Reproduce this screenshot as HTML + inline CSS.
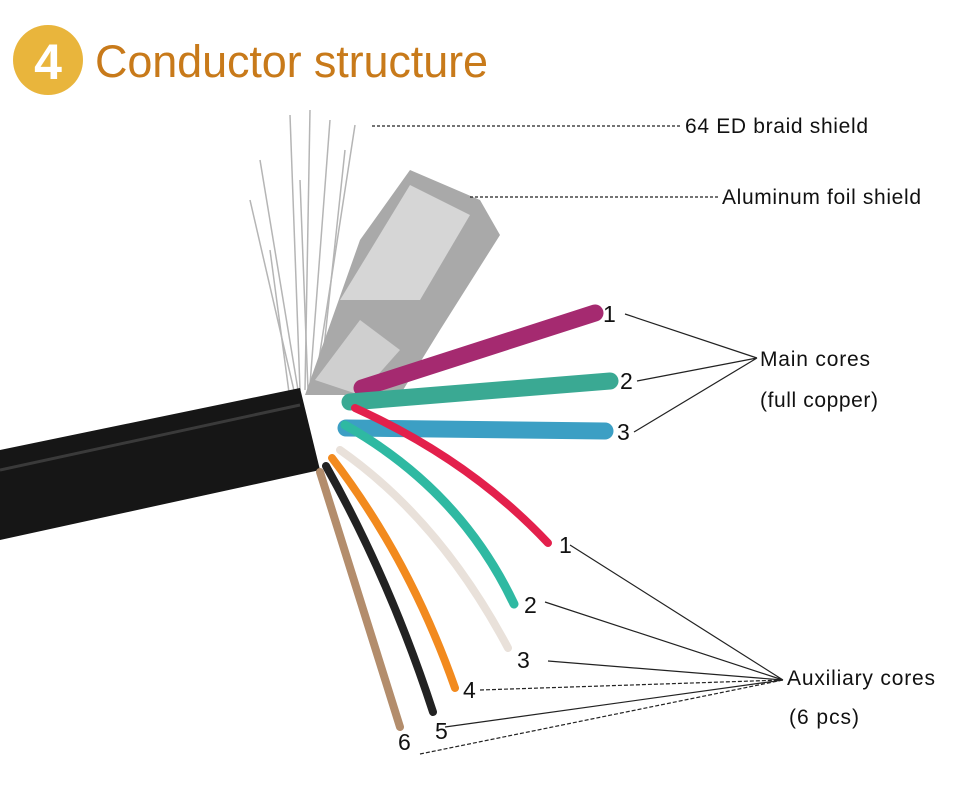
<!DOCTYPE html>
<html><head><meta charset="utf-8"><style>
html,body{margin:0;padding:0;background:#fff;}
svg{display:block}
text{font-family:"Liberation Sans",sans-serif;}
</style></head><body>
<svg width="960" height="785" viewBox="0 0 960 785" xmlns="http://www.w3.org/2000/svg">
<rect width="960" height="785" fill="#fff"/>
<!-- title -->
<circle cx="48" cy="60" r="35" fill="#e9b53c"/>
<text x="48" y="79" font-family="Liberation Serif,serif" font-size="50" font-weight="bold" fill="#fff" text-anchor="middle">4</text>
<text x="95" y="77" font-size="45" fill="#c87a1a" textLength="393">Conductor structure</text>
<!-- braid strands -->
<g stroke="#b5b5b5" stroke-width="1.5" fill="none">
<path d="M300 390 L290 115"/><path d="M305 390 L310 110"/><path d="M310 385 L330 120"/>
<path d="M298 390 L260 160"/><path d="M315 385 L355 125"/><path d="M295 395 L250 200"/>
<path d="M320 385 L345 150"/><path d="M290 400 L270 250"/><path d="M308 390 L300 180"/>
</g>
<!-- cable jacket -->
<path d="M0 450 L300 388 L320 470 L0 540 Z" fill="#161616"/>
<path d="M0 470 L300 405" stroke="#3a3a3a" stroke-width="3"/>
<!-- foil -->
<path d="M305 395 L360 240 L410 170 L480 200 L500 235 L440 330 L400 395 Z" fill="#a9a9a9"/>
<path d="M340 300 L410 185 L470 215 L420 300 Z" fill="#d6d6d6"/>
<path d="M315 380 L360 320 L400 350 L360 395 Z" fill="#cfcfcf"/>
<!-- main cores -->
<g stroke-linecap="round" fill="none">
<path d="M362 388 L595 313" stroke="#a52a70" stroke-width="17"/>
<path d="M350 402 L610 381" stroke="#3aa993" stroke-width="17"/>
<path d="M346 428 L605 431" stroke="#3c9fc4" stroke-width="17"/>
<path d="M355 408 Q470 460 548 543" stroke="#e3204c" stroke-width="8"/>
<path d="M345 425 Q460 490 514 604" stroke="#2fb9a2" stroke-width="9"/>
<path d="M340 450 Q440 520 508 648" stroke="#e9e1da" stroke-width="8"/>
<path d="M332 458 Q410 560 455 688" stroke="#f28a1e" stroke-width="8"/>
<path d="M326 466 Q390 580 433 712" stroke="#222" stroke-width="8"/>
<path d="M320 472 Q360 600 400 727" stroke="#b38d6c" stroke-width="8"/>
</g>
<!-- leaders -->
<g stroke="#222" stroke-width="1.2" fill="none">
<path d="M372 126 L680 126" stroke-dasharray="3,2"/>
<path d="M470 197 L720 197" stroke-dasharray="3,2"/>
<path d="M625 314 L757 358 M637 381 L757 358 M634 432 L757 358"/>
<path d="M570 545 L783 680 M545 602 L783 680 M548 661 L783 680 M445 727 L783 680"/>
<path d="M480 690 L783 680 M420 754 L783 680" stroke-dasharray="4,2"/>
</g>
<g font-size="21" fill="#111">
<text x="685" y="133" textLength="183">64 ED braid shield</text>
<text x="722" y="204" textLength="199">Aluminum foil shield</text>
<text x="603" y="322" font-size="23">1</text>
<text x="620" y="389" font-size="23">2</text>
<text x="617" y="440" font-size="23">3</text>
<text x="760" y="366" textLength="110">Main cores</text>
<text x="760" y="407" textLength="118">(full copper)</text>
<text x="559" y="553" font-size="23">1</text>
<text x="524" y="613" font-size="23">2</text>
<text x="517" y="668" font-size="23">3</text>
<text x="463" y="698" font-size="23">4</text>
<text x="435" y="739" font-size="23">5</text>
<text x="398" y="750" font-size="23">6</text>
<text x="787" y="685" textLength="148">Auxiliary cores</text>
<text x="789" y="724" textLength="70">(6 pcs)</text>
</g>
</svg>
</body></html>
